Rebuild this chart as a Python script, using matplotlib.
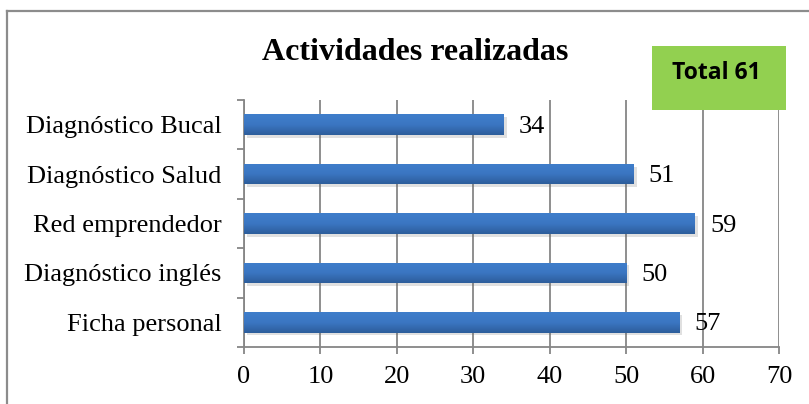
import numpy as np
import matplotlib.pyplot as plt
from matplotlib.patches import Rectangle
from matplotlib.lines import Line2D
import matplotlib.patheffects as pe
from matplotlib.colors import LinearSegmentedColormap

# Data
categories = ['Diagnóstico Bucal', 'Diagnóstico Salud', 'Red emprendedor',
              'Diagnóstico inglés', 'Ficha personal']
values = [34, 51, 59, 50, 57]
x_ticks = [0, 10, 20, 30, 40, 50, 60, 70]
title = 'Actividades realizadas'
total_label = 'Total 61'

W, H = 809, 404
fig = plt.figure(figsize=(W / 100, H / 100), dpi=100)
ax = fig.add_axes([244 / W, 1 - 347 / H, (779 - 244) / W, (347 - 100) / H])

grey = '#868686'
serif = ['Liberation Serif', 'DejaVu Serif']

y = np.arange(len(categories))
bars = ax.barh(y, values, height=0.42, color='#3a72bd', zorder=3,
               path_effects=[pe.SimplePatchShadow(offset=(2, -2), shadow_rgbFace='#666666', alpha=0.2),
                             pe.Normal()])

# gradient fill on the bars
cmap = LinearSegmentedColormap.from_list('blu', ['#3f7ecb', '#3b76c2', '#2d5d9b'])
grad = np.linspace(0, 1, 64).reshape(-1, 1)
for b in bars:
    x0, y0 = b.get_x(), b.get_y()
    im = ax.imshow(grad, cmap=cmap, aspect='auto', zorder=4, interpolation='bicubic',
                   extent=(x0, x0 + b.get_width(), y0 + b.get_height(), y0))
    im.set_clip_path(b)

for yi, v in zip(y, values):
    ax.annotate(str(v), (v, yi), xytext=(15, -2), textcoords='offset pixels',
                ha='left', va='center', fontsize=19, family=serif, zorder=5)

ax.set_xlim(0, 70)
ax.set_ylim(len(categories) - 0.5, -0.5)
ax.set_xticks(x_ticks)
ax.set_xticklabels([str(t) for t in x_ticks], fontsize=19, family=serif)
ax.set_yticks(y)
ax.set_yticklabels(categories, fontsize=19, family=serif)
ax.set_yticks(np.arange(-0.5, len(categories)), minor=True)
ax.tick_params(axis='y', which='major', length=0, pad=16)
ax.tick_params(axis='y', which='minor', length=5, width=1.3, color=grey, direction='out')
ax.tick_params(axis='x', length=5, width=1.3, color=grey, pad=9)

ax.xaxis.grid(True, color=grey, linewidth=1.3, zorder=1)
ax.set_axisbelow(True)
for s in ['top', 'right']:
    ax.spines[s].set_visible(False)
for s in ['left', 'bottom']:
    ax.spines[s].set_color(grey)
    ax.spines[s].set_linewidth(1.3)

fig.text(415 / W, 1 - 53 / H, title, ha='center', va='center', fontsize=23,
         fontweight='bold', family=serif)

# green total box
fig.patches.append(Rectangle((652 / W, 1 - 110 / H), 134 / W, 64 / H,
                             transform=fig.transFigure, facecolor='#92d050',
                             edgecolor='none', zorder=5))
fig.text(716 / W, 1 - 73 / H, total_label, ha='center', va='center', fontsize=16.5,
         fontweight='bold', family=['Open Sans', 'DejaVu Sans'], zorder=6)

# outer chart border (runs past the right/bottom edges)
fig.add_artist(Line2D([7.5 / W, 7.5 / W], [-0.1, 1 - 10.5 / H], transform=fig.transFigure,
                      color='#8c8c8c', linewidth=1.6))
fig.add_artist(Line2D([7.5 / W, 1.1], [1 - 10.5 / H, 1 - 10.5 / H], transform=fig.transFigure,
                      color='#8c8c8c', linewidth=1.6))

fig.savefig('out.png', dpi=100)
